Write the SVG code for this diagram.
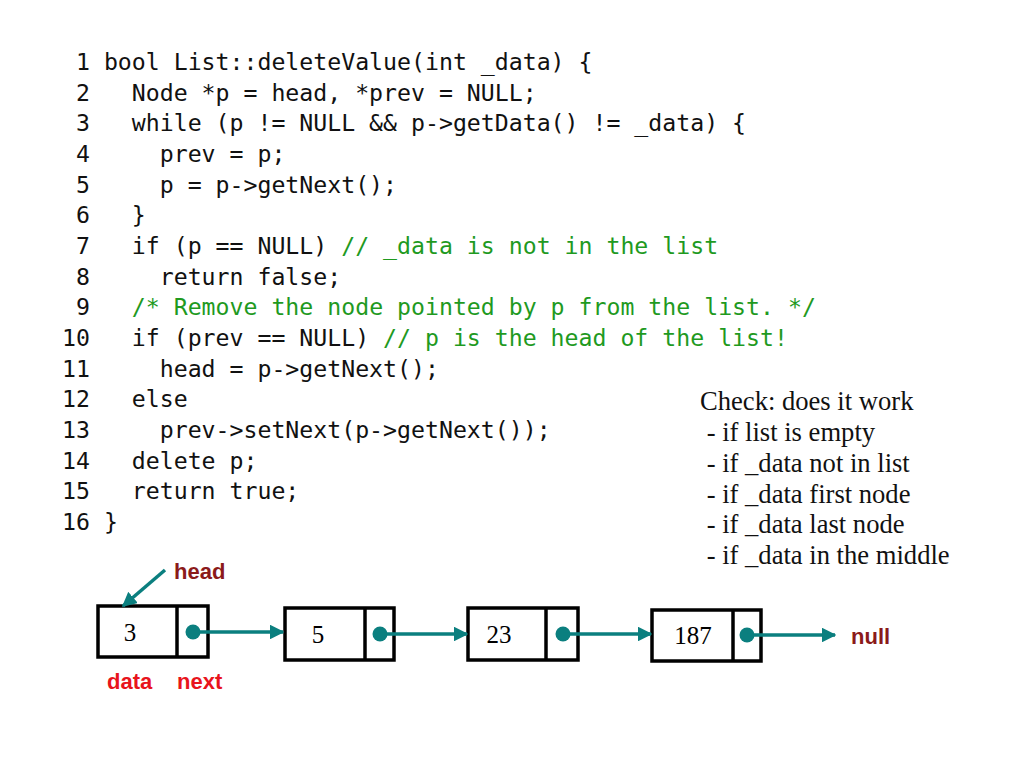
<svg xmlns="http://www.w3.org/2000/svg" width="1024" height="768" viewBox="0 0 1024 768">
<style>
.code{font-family:"DejaVu Sans Mono","Liberation Mono",monospace;font-size:23.2px;fill:#111;white-space:pre}
.cm{fill:#1f9a1f}
.chk{font-family:"Liberation Serif",serif;font-size:26.6px;fill:#111;white-space:pre}
.box{fill:#fff;stroke:#000;stroke-width:3.5}
.div{stroke:#000;stroke-width:3.5}
.val{font-family:"Liberation Serif",serif;font-size:25px;fill:#000;text-anchor:middle}
.dot{fill:#0b7f7f}
.link{stroke:#0b7f7f;stroke-width:3.5;fill:none}
.lbl{font-family:"Liberation Sans",Arial,sans-serif;font-weight:bold;font-size:22px}
</style>
<defs>
<marker id="ah" viewBox="0 0 10 10" refX="9" refY="5" markerWidth="4.2" markerHeight="4.2" orient="auto" markerUnits="strokeWidth">
<path d="M0,0 L10,5 L0,10 z" fill="#0b7f7f"/>
</marker>
</defs>
<rect width="1024" height="768" fill="#fff"/>
<g id="code">
<text class="code" x="62" y="70"> 1 bool List::deleteValue(int _data) {</text>
<text class="code" x="62" y="100.7"> 2   Node *p = head, *prev = NULL;</text>
<text class="code" x="62" y="131.3"> 3   while (p != NULL &amp;&amp; p-&gt;getData() != _data) {</text>
<text class="code" x="62" y="162"> 4     prev = p;</text>
<text class="code" x="62" y="192.7"> 5     p = p-&gt;getNext();</text>
<text class="code" x="62" y="223.3"> 6   }</text>
<text class="code" x="62" y="254"> 7   if (p == NULL) <tspan class="cm">// _data is not in the list</tspan></text>
<text class="code" x="62" y="284.7"> 8     return false;</text>
<text class="code" x="62" y="315.3"> 9   <tspan class="cm">/* Remove the node pointed by p from the list. */</tspan></text>
<text class="code" x="62" y="346">10   if (prev == NULL) <tspan class="cm">// p is the head of the list!</tspan></text>
<text class="code" x="62" y="376.7">11     head = p-&gt;getNext();</text>
<text class="code" x="62" y="407.3">12   else</text>
<text class="code" x="62" y="438">13     prev-&gt;setNext(p-&gt;getNext());</text>
<text class="code" x="62" y="468.7">14   delete p;</text>
<text class="code" x="62" y="499.3">15   return true;</text>
<text class="code" x="62" y="530">16 }</text>
</g>
<g id="check">
<text class="chk" x="700" y="410">Check: does it work</text>
<text class="chk" x="700" y="441"> - if list is empty</text>
<text class="chk" x="700" y="472"> - if _data not in list</text>
<text class="chk" x="700" y="502.5"> - if _data first node</text>
<text class="chk" x="700" y="533"> - if _data last node</text>
<text class="chk" x="700" y="564"> - if _data in the middle</text>
</g>
<g id="node1">
<rect class="box" x="98" y="606" width="110" height="51"/>
<line class="div" x1="177" y1="606" x2="177" y2="657"/>
<text class="val" x="130" y="641">3</text>
<circle class="dot" cx="193" cy="632" r="7.5"/>
</g>
<g id="node2">
<rect class="box" x="285" y="608" width="109" height="52"/>
<line class="div" x1="365" y1="608" x2="365" y2="660"/>
<text class="val" x="318" y="643">5</text>
<circle class="dot" cx="380" cy="634" r="7.5"/>
</g>
<g id="node3">
<rect class="box" x="468" y="608" width="110" height="52"/>
<line class="div" x1="546" y1="608" x2="546" y2="660"/>
<text class="val" x="499" y="643">23</text>
<circle class="dot" cx="563" cy="634" r="7.5"/>
</g>
<g id="node4">
<rect class="box" x="652" y="610" width="109" height="51"/>
<line class="div" x1="733" y1="610" x2="733" y2="661"/>
<text class="val" x="693" y="644">187</text>
<circle class="dot" cx="747" cy="635" r="7.5"/>
</g>
<g id="labels">
<text class="lbl" x="174" y="579" fill="#8b1a1a">head</text>
<text class="lbl" x="107" y="689" fill="#e8141c">data</text>
<text class="lbl" x="177" y="689" fill="#e8141c">next</text>
<text class="lbl" x="851" y="644" fill="#8b1a1a">null</text>
</g>
<g id="connectors">
<line class="link" x1="165" y1="570" x2="123" y2="606" marker-end="url(#ah)"/>
<line class="link" x1="193" y1="632" x2="283" y2="632" marker-end="url(#ah)"/>
<line class="link" x1="380" y1="634" x2="467" y2="634" marker-end="url(#ah)"/>
<line class="link" x1="563" y1="634" x2="651" y2="634" marker-end="url(#ah)"/>
<line class="link" x1="747" y1="635" x2="835" y2="635" marker-end="url(#ah)"/>
</g>
</svg>
